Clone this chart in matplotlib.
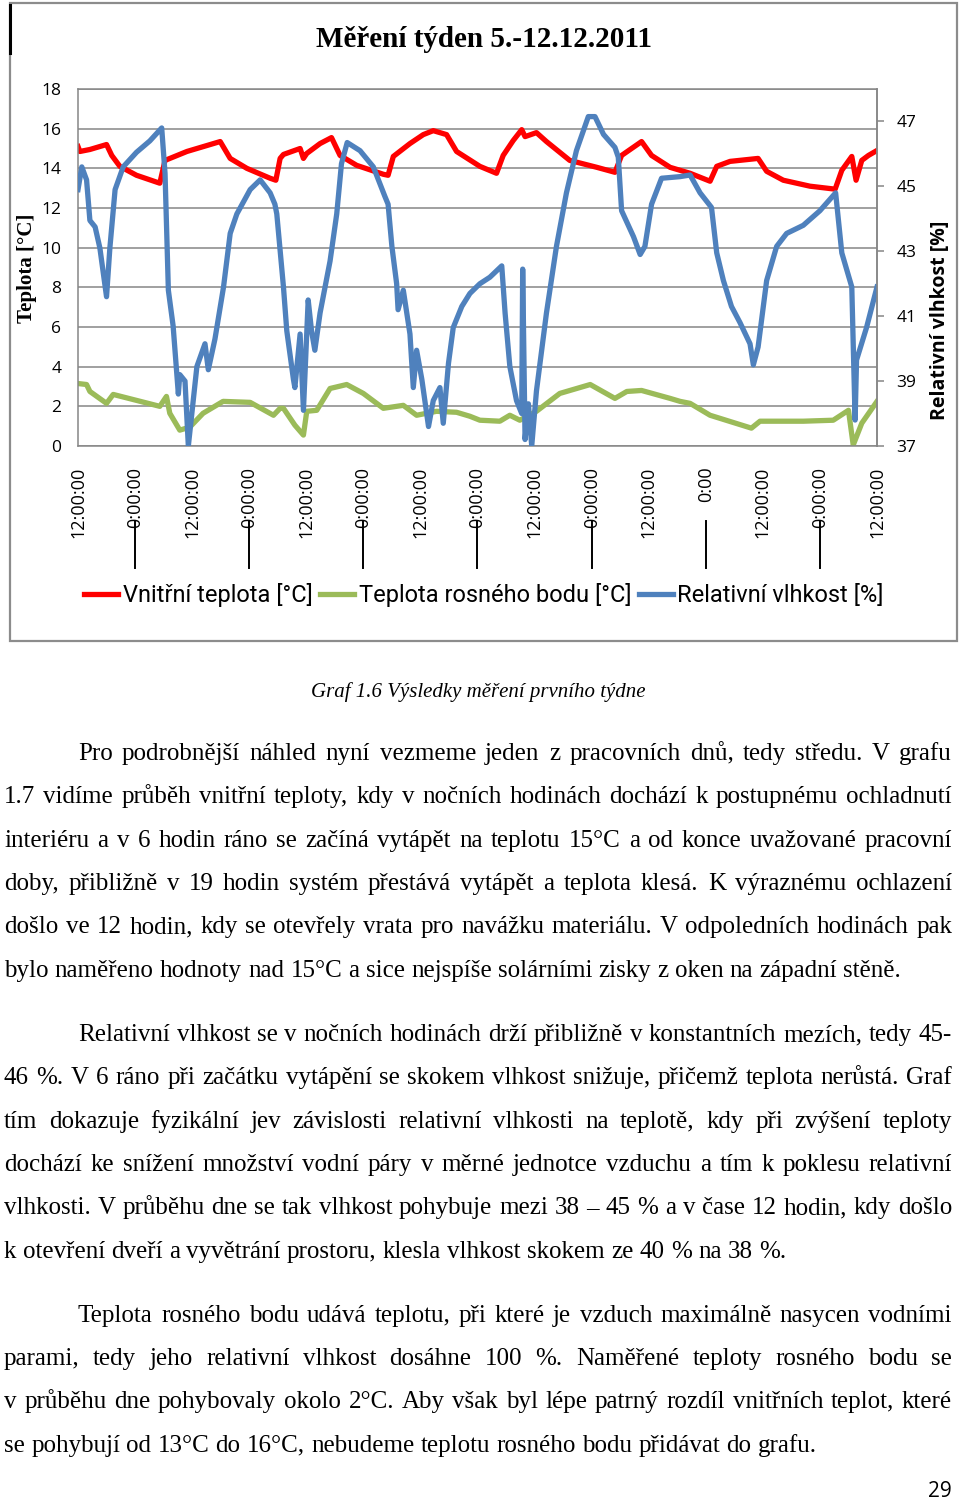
import matplotlib
matplotlib.use("Agg")
import matplotlib.pyplot as plt
from matplotlib import font_manager
from matplotlib.patches import Rectangle
from matplotlib.lines import Line2D
import matplotlib.transforms as mtransforms

# hours since 5.12.2011 12:00
red_h = [0, 0.4, 2.5, 6.0, 7.1, 8.8, 12.3, 17.2, 18.3, 22.9,
         29.9, 32.0, 35.5, 40.4, 41.6, 42.5, 43.2, 46.7, 47.4, 48.1,
         50.9, 53.3, 55.1, 58.6, 64.2, 65.2, 66.3, 69.8, 72.6, 74.7,
         77.5, 79.6, 84.5, 88.0, 89.4, 91.5, 93.3, 94.0, 96.4, 98.5,
         103.4, 109.1, 112.9, 114.3, 118.5, 120.6, 124.5, 128.7, 132.9, 134.3,
         137.1, 143.0, 144.8, 148.3, 153.9, 159.2, 160.6, 162.7, 163.6, 164.8,
         166.2, 168.0]
red_t = [15.1, 14.85, 14.95, 15.2, 14.65, 14.1, 13.65, 13.25, 14.4, 14.85,
         15.35, 14.5, 14.0, 13.5, 13.4, 14.5, 14.7, 15.0, 14.5, 14.75,
         15.25, 15.55, 14.65, 14.15, 13.7, 13.65, 14.6, 15.25, 15.7, 15.9,
         15.7, 14.85, 14.1, 13.75, 14.65, 15.4, 15.95, 15.6, 15.8, 15.35,
         14.4, 14.05, 13.8, 14.65, 15.35, 14.65, 14.05, 13.75, 13.35, 14.1,
         14.35, 14.5, 13.85, 13.4, 13.1, 12.95, 13.9, 14.6, 13.4, 14.4,
         14.65, 14.9]

green_h = [0, 1.8, 2.5, 6.0, 7.4, 12.3, 17.2, 18.6, 19.3, 21.4,
           23.5, 26.3, 30.5, 36.2, 41.1, 42.5, 43.2, 45.6, 47.4, 48.1,
           50.2, 53.0, 56.5, 60.0, 64.2, 68.4, 71.2, 75.4, 79.6, 82.4,
           84.5, 88.7, 90.8, 92.9, 96.4, 101.3, 107.7, 112.9, 115.4, 118.5,
           124.5, 126.6, 128.7, 132.9, 141.6, 143.4, 152.5, 158.8, 162.0, 163.0,
           164.8, 168.0]
green_t = [3.15, 3.1, 2.75, 2.15, 2.6, 2.3, 2.0, 2.5, 1.65, 0.8,
           0.95, 1.65, 2.25, 2.2, 1.55, 1.9, 1.9, 1.05, 0.55, 1.75,
           1.8, 2.9, 3.1, 2.65, 1.9, 2.05, 1.55, 1.75, 1.7, 1.5,
           1.3, 1.25, 1.55, 1.3, 1.75, 2.65, 3.1, 2.4, 2.75, 2.8,
           2.4, 2.25, 2.15, 1.55, 0.9, 1.25, 1.25, 1.3, 1.8, 0.05,
           1.15, 2.25]

blue_h = [0, 0.8, 1.8, 2.5, 3.6, 4.6, 6.0, 6.7, 7.8, 9.5,
          12.3, 15.1, 17.6, 18.3, 19.0, 20.0, 21.1, 21.4, 22.5, 23.2,
          25.0, 26.7, 27.4, 28.8, 30.6, 32.0, 33.4, 36.2, 38.3, 40.4,
          41.4, 41.8, 43.2, 43.9, 45.3, 45.6, 46.7, 47.4, 48.4, 49.1,
          49.8, 50.9, 53.0, 54.4, 55.4, 56.6, 59.3, 62.1, 64.5, 65.2,
          66.0, 67.0, 67.3, 68.4, 69.8, 70.5, 71.2, 72.3, 73.7, 74.7,
          76.1, 76.8, 77.9, 78.9, 80.7, 82.4, 84.5, 86.6, 89.1, 89.8,
          90.8, 92.2, 93.3, 93.5, 94.0, 94.7, 95.4, 96.4, 98.5, 100.6,
          102.7, 104.8, 107.3, 108.7, 110.5, 112.9, 113.6, 114.3, 116.8, 118.2,
          119.2, 120.6, 122.7, 126.6, 128.7, 130.8, 133.2, 134.3, 135.7, 137.4,
          139.2, 141.3, 142.0, 143.0, 144.8, 146.9, 149.0, 152.5, 156.0, 159.3,
          160.6, 162.7, 163.4, 163.7, 165.8, 168.0]
blue_r = [44.9, 45.6, 45.2, 43.95, 43.75, 43.1, 41.6, 43.1, 44.9, 45.6,
          46.05, 46.4, 46.8, 45.4, 41.8, 40.7, 38.6, 39.2, 39.0, 37.0,
          39.45, 40.15, 39.35, 40.3, 41.9, 43.55, 44.15, 44.9, 45.2, 44.8,
          44.45, 44.15, 41.9, 40.55, 39.05, 38.8, 40.45, 38.1, 41.5, 40.55,
          39.95, 41.1, 42.7, 44.15, 45.7, 46.35, 46.1, 45.6, 44.7, 44.45,
          43.15, 42.0, 41.2, 41.8, 40.45, 38.8, 39.95, 39.05, 37.6, 38.4,
          38.8, 37.7, 39.55, 40.65, 41.3, 41.7, 42.0, 42.2, 42.55, 41.1,
          39.45, 38.4, 38.0, 42.45, 37.2, 38.3, 37.0, 38.7, 41.1, 43.15,
          44.8, 46.1, 47.15, 47.15, 46.6, 46.2, 45.9, 44.25, 43.45, 42.9,
          43.15, 44.45, 45.25, 45.3, 45.35, 44.8, 44.35, 42.95, 42.1, 41.3,
          40.8, 40.15, 39.5, 40.05, 42.1, 43.15, 43.55, 43.8, 44.25, 44.8,
          42.95, 41.9, 37.8, 39.65, 40.65, 41.9]

tick_h = [0, 12, 24, 36, 48, 60, 72, 84, 96, 108, 120, 132, 144, 156, 168]
tick_labels = ["12:00:00", "0:00:00", "12:00:00", "0:00:00", "12:00:00",
               "0:00:00", "12:00:00", "0:00:00", "12:00:00", "0:00:00",
               "12:00:00", "0:00", "12:00:00", "0:00:00", "12:00:00"]
left_ticks = [0, 2, 4, 6, 8, 10, 12, 14, 16, 18]
right_ticks = [37, 39, 41, 43, 45, 47]

names = ["Vnitřní teplota [°C]", "Teplota rosného bodu [°C]", "Relativní vlhkost [%]"]

para1 = ["Pro podrobnější náhled nyní vezmeme jeden z pracovních dnů, tedy středu. V grafu",
         "1.7 vidíme průběh vnitřní teploty, kdy v nočních hodinách dochází k postupnému ochladnutí",
         "interiéru a v 6 hodin ráno se začíná vytápět na teplotu 15°C a od konce uvažované pracovní",
         "doby, přibližně v 19 hodin systém přestává vytápět a teplota klesá. K výraznému ochlazení",
         "došlo ve 12 hodin, kdy se otevřely vrata pro navážku materiálu. V odpoledních hodinách pak",
         "bylo naměřeno hodnoty nad 15°C a sice nejspíše solárními zisky z oken na západní stěně."]
para2 = ["Relativní vlhkost se v nočních hodinách drží přibližně v konstantních mezích, tedy 45-",
         "46 %. V 6 ráno při začátku vytápění se skokem vlhkost snižuje, přičemž teplota nerůstá. Graf",
         "tím dokazuje fyzikální jev závislosti relativní vlhkosti na teplotě, kdy při zvýšení teploty",
         "dochází ke snížení množství vodní páry v měrné jednotce vzduchu a tím k poklesu relativní",
         "vlhkosti. V průběhu dne se tak vlhkost pohybuje mezi 38 – 45 % a v čase 12 hodin, kdy došlo",
         "k otevření dveří a vyvětrání prostoru, klesla vlhkost skokem ze 40 % na 38 %."]
para3 = ["Teplota rosného bodu udává teplotu, při které je vzduch maximálně nasycen vodními",
         "parami, tedy jeho relativní vlhkost dosáhne 100 %. Naměřené teploty rosného bodu se",
         "v průběhu dne pohybovaly okolo 2°C. Aby však byl lépe patrný rozdíl vnitřních teplot, které",
         "se pohybují od 13°C do 16°C, nebudeme teplotu rosného bodu přidávat do grafu."]

W, H = 960, 1510
def fx(px):
    return px / W
def fy(px):
    return 1 - px / H

installed = {f.name for f in font_manager.fontManager.ttflist}
if "Liberation Sans Narrow" in installed:
    leg_font, leg_size = "Liberation Sans Narrow", 20.3
else:
    leg_font, leg_size = "Roboto", 17

grid_c = "#868686"
fig = plt.figure(figsize=(9.6, 15.1), dpi=100)
ax = fig.add_axes([fx(78), fy(446), 799 / W, 357 / H])
ax2 = ax.twinx()

l1, = ax.plot(red_h, red_t, color="#ff0000", lw=3.8, solid_joinstyle="round")
l2, = ax.plot(green_h, green_t, color="#9bbb59", lw=3.8, solid_joinstyle="round")
l3, = ax2.plot(blue_h, blue_r, color="#4f81bd", lw=3.8, solid_joinstyle="round")

ax.set_xlim(0, 168)
ax.set_ylim(0, 18)
ax2.set_ylim(37, 48)
ax.set_yticks(left_ticks)
ax2.set_yticks(right_ticks)
ax.set_xticks(tick_h)
ax.set_xticklabels(tick_labels, rotation=90, fontfamily="Open Sans", fontsize=13)
ax.tick_params(axis="x", length=0, pad=15)
ax.tick_params(axis="y", length=0, pad=12, labelsize=12.5)
ax2.tick_params(axis="y", length=5, width=1.1, color=grid_c, pad=9, labelsize=12.5)
for lab in ax.get_yticklabels() + ax2.get_yticklabels():
    lab.set_fontfamily("Open Sans")
ax.yaxis.grid(True, color=grid_c, lw=1.1)
ax.set_axisbelow(True)
for sp in ax.spines.values():
    sp.set_color(grid_c)
    sp.set_linewidth(1.1)
for sp in ["left", "top", "bottom"]:
    ax2.spines[sp].set_visible(False)
ax2.spines["right"].set_color(grid_c)
ax2.spines["right"].set_linewidth(1.1)

# long category separator ticks below the midnight labels
trans = mtransforms.blended_transform_factory(ax.transData, ax.transAxes)
for h in tick_h[1:-1:2]:
    ax.plot([h, h], [-0.21, -0.342], color="black", lw=1.4, transform=trans, clip_on=False)

fig.text(fx(484), fy(47), "Měření týden 5.-12.12.2011", fontfamily="Liberation Serif",
         fontweight="bold", fontsize=21, ha="center", va="baseline")
fig.text(fx(27), fy(268), "Teplota [°C]", fontfamily="Liberation Serif", fontweight="bold",
         fontsize=15, rotation=90, ha="center", va="center")
fig.text(fx(940), fy(320), "Relativní vlhkost [%]", fontfamily="Open Sans", fontweight="bold",
         fontsize=14, rotation=90, ha="center", va="center")

fig.legend([l1, l2, l3], names, loc="center", bbox_to_anchor=(fx(484), fy(595)), ncol=3,
           frameon=False, handlelength=1.45, handletextpad=0.2, columnspacing=0.3,
           prop={"family": leg_font, "size": leg_size})

fig.patches.append(Rectangle((fx(10), fy(641)), 947 / W, 638 / H, transform=fig.transFigure,
                             fill=False, ec="#8c8c8c", lw=1.6))
fig.add_artist(Line2D([fx(10), fx(10)], [fy(5), fy(53)], color="black", lw=2.2))

fig.text(fx(478), fy(697), "Graf 1.6 Výsledky měření prvního týdne", fontfamily="Liberation Serif",
         fontstyle="italic", fontsize=15, ha="center", va="baseline")

renderer = fig.canvas.get_renderer()
body_size = 18
space = 0.25 * body_size * 100 / 72

def put_para(lines, y0):
    for i, line in enumerate(lines):
        words = line.split(" ")
        x0 = 78 if i == 0 else 4
        yb = y0 + i * 43.33
        texts = [fig.text(0, fy(yb), w, fontfamily="Liberation Serif", fontsize=body_size,
                          va="baseline", ha="left") for w in words]
        widths = [t.get_window_extent(renderer).width for t in texts]
        if i < len(lines) - 1 and len(words) > 1:
            gap = (952 - x0 - sum(widths)) / (len(words) - 1)
        else:
            gap = space
        x = x0
        for t, wd in zip(texts, widths):
            t.set_x(fx(x))
            x += wd + gap

put_para(para1, 760)
put_para(para2, 1041)
put_para(para3, 1321.7)

fig.text(fx(952), fy(1497), "29", fontfamily="Open Sans", fontsize=15, ha="right", va="baseline")

fig.savefig("out.png", dpi=100)
